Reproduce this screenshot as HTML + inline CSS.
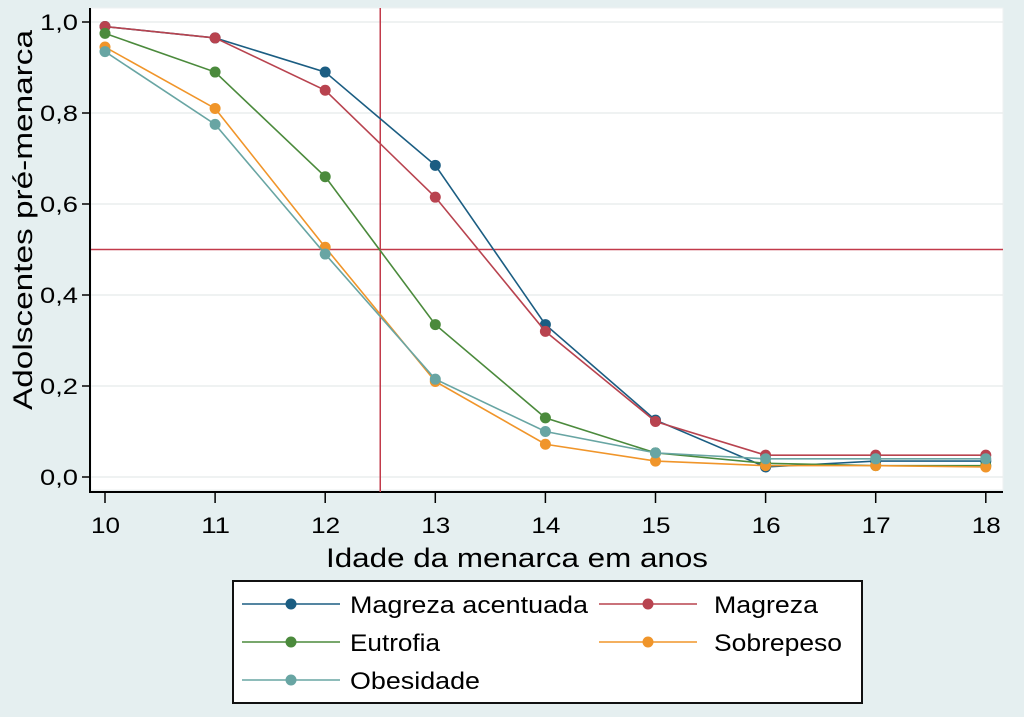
<!DOCTYPE html>
<html><head><meta charset="utf-8"><style>
body{margin:0;width:1024px;height:717px;background:#e5eff0;overflow:hidden}
svg{display:block;font-family:"Liberation Sans",sans-serif}
</style></head><body>
<svg id="c" width="1024" height="717"></svg>
<script>
const ages=[10,11,12,13,14,15,16,17,18];
const seriesNames=["Magreza acentuada","Magreza","Eutrofia","Sobrepeso","Obesidade"];
const magrezaAcentuada=[0.99,0.965,0.89,0.685,0.335,0.125,0.022,0.035,0.035];
const magreza=[0.99,0.965,0.85,0.615,0.32,0.122,0.048,0.048,0.048];
const eutrofia=[0.975,0.89,0.66,0.335,0.13,0.053,0.03,0.025,0.025];
const sobrepeso=[0.945,0.81,0.505,0.21,0.072,0.035,0.025,0.025,0.022];
const obesidade=[0.935,0.775,0.49,0.215,0.1,0.053,0.04,0.04,0.04];
const yTicks=[0,0.2,0.4,0.6,0.8,1.0];
const yTickLabels=["0,0","0,2","0,4","0,6","0,8","1,0"];
const refX=12.5, refY=0.5;
const colors=["#1b5d82","#b8434f","#4b8a3c","#f0952a","#68a5a3"];
const allSeries=[magrezaAcentuada,magreza,eutrofia,sobrepeso,obesidade];
const NS="http://www.w3.org/2000/svg";
const svg=document.getElementById('c');
const X=v=>105+(v-10)*110.1;
const Y=v=>477-v*455;
function el(t,a,p){const e=document.createElementNS(NS,t);for(const k in a)e.setAttribute(k,a[k]);(p||svg).appendChild(e);return e;}
const plot=el('rect',{x:91,y:8,width:912,height:482,fill:'#fff',stroke:'#eef2f2'});


yTicks.forEach((t,i)=>{
  const g=el('line',{x1:91,x2:1003,y1:Y(t),y2:Y(t),stroke:'#eaeeee','stroke-width':1.5});
  
  
  el('line',{x1:82,x2:90,y1:Y(t),y2:Y(t),stroke:'#000','stroke-width':1.5});
  const tx=el('text',{x:78,y:Y(t)+8,'text-anchor':'end','font-size':22,textLength:38,lengthAdjust:'spacingAndGlyphs'});
  tx.textContent=yTickLabels[i];
  
  
});
const ya=el('line',{x1:90,x2:90,y1:8,y2:493,stroke:'#000','stroke-width':2});


const xa=el('line',{x1:90,x2:1003,y1:492,y2:492,stroke:'#000','stroke-width':2});


ages.forEach(a=>{
  el('line',{x1:X(a),x2:X(a),y1:492,y2:503,stroke:'#000','stroke-width':1.5});
  const tx=el('text',{x:X(a)-14,y:533,'font-size':22,textLength:29,lengthAdjust:'spacingAndGlyphs'});
  tx.textContent=a;
  
  
});
const vr=el('line',{x1:X(refX),x2:X(refX),y1:8,y2:492,stroke:'#c23a4a','stroke-width':1.5});


const hr=el('line',{x1:91,x2:1003,y1:Y(refY),y2:Y(refY),stroke:'#c23a4a','stroke-width':1.5});


allSeries.forEach((s,i)=>{
  const pl=el('polyline',{points:s.map((v,j)=>X(ages[j])+','+Y(v)).join(' '),fill:'none',stroke:colors[i],'stroke-width':1.6});
  
  
  s.forEach((v,j)=>{
    const c=el('circle',{cx:X(ages[j]),cy:Y(v),r:5.5,fill:colors[i]});
    
    
  });
});
const yt=el('text',{x:-410,y:0,'font-size':27,transform:'translate(32,0) rotate(-90)',textLength:380,lengthAdjust:'spacingAndGlyphs'});
yt.textContent='Adolscentes pré-menarca';


const xt=el('text',{x:326,y:567,'font-size':27,textLength:382,lengthAdjust:'spacingAndGlyphs'});
xt.textContent='Idade da menarca em anos';


const lg=el('g',{});


el('rect',{x:233,y:581,width:629,height:122,fill:'#fff',stroke:'#111','stroke-width':2},lg);
const pos=[[242,604,350,238],[599,604,714,104],[242,642,350,90],[599,642,714,128],[242,680,350,130]];
seriesNames.forEach((n,i)=>{
  const [lx,ly,tx,tw]=pos[i];
  const e=el('g',{},lg);
  
  
  el('line',{x1:lx,x2:lx+98,y1:ly,y2:ly,stroke:colors[i],'stroke-width':1.6},e);
  el('circle',{cx:lx+49,cy:ly,r:5.5,fill:colors[i]},e);
  const t=el('text',{x:tx,y:ly+9,'font-size':24,textLength:tw,lengthAdjust:'spacingAndGlyphs'},e);
  t.textContent=n;
});
</script>
</body></html>
